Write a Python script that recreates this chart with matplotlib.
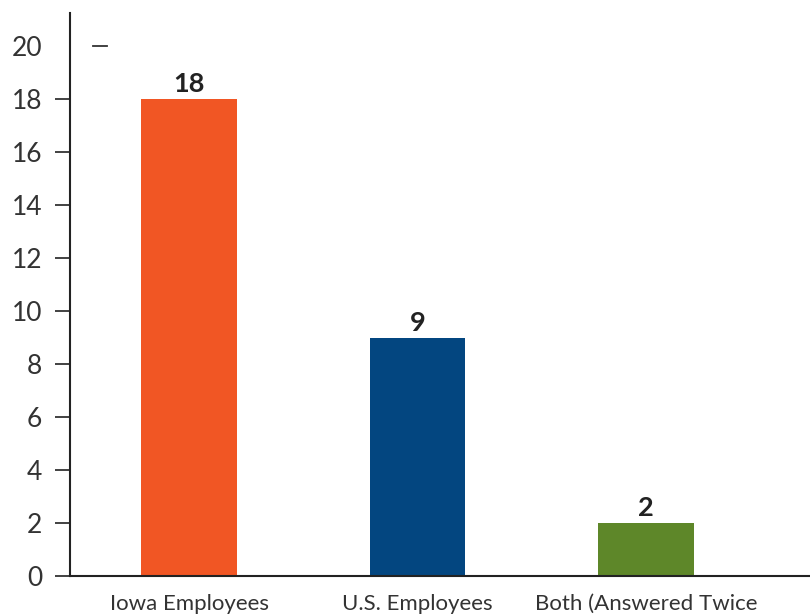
import matplotlib
matplotlib.use("Agg")
import matplotlib.pyplot as plt

categories = ["Iowa Employees", "U.S. Employees", "Both (Answered Twice"]
values = [18, 9, 2]
colors = ["#F15624", "#034680", "#5E8729"]
yticks = [0, 2, 4, 6, 8, 10, 12, 14, 16, 18, 20]

plt.rcParams['font.family'] = ['Lato', 'DejaVu Sans']

fig = plt.figure(figsize=(8.10, 6.16), dpi=100)
ax = fig.add_axes([70/810, 40/616, 740/810, 563/616])

x = list(range(len(categories)))
bars = ax.bar(x, values, width=0.42, color=colors, zorder=2)
for xi, v in zip(x, values):
    ax.annotate(str(v), (xi, v), xytext=(0, 2), textcoords="offset points",
                ha="center", va="bottom", fontsize=19.5, fontweight="bold", color="#222222")

ax.set_xlim(-0.521, 2.718)
ax.set_ylim(0, 21.25)
ax.set_yticks(yticks)
ax.set_yticklabels([str(t) for t in yticks], fontsize=19, color="#333333")
ax.set_xticks(x)
ax.set_xticklabels(categories, fontsize=16, color="#333333")

for s in ["top", "right"]:
    ax.spines[s].set_visible(False)
for s in ["left", "bottom"]:
    ax.spines[s].set_color("#222222")
    ax.spines[s].set_linewidth(1.5)
ax.tick_params(axis="y", length=11, width=1.3, color="#333333", pad=9)
ax.tick_params(axis="x", length=0, pad=13)
ax.yaxis.get_major_ticks()[-1].tick1line.set_visible(False)
ax.axhline(20, xmin=0.031, xmax=0.05, color="#333333", linewidth=1.3)

fig.savefig("out.png", dpi=100)
